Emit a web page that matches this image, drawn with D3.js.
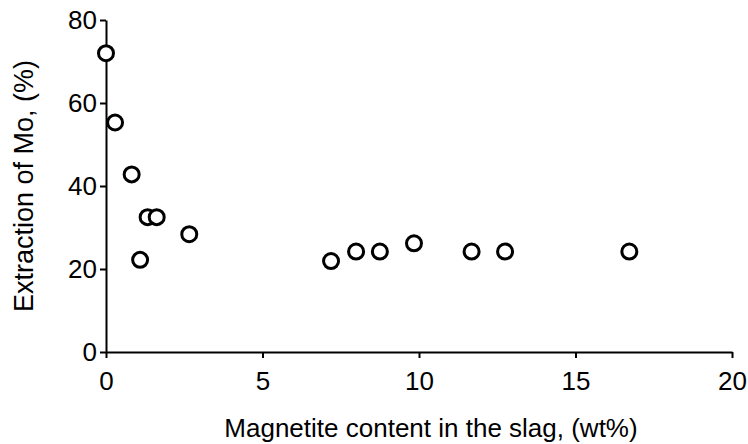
<!DOCTYPE html>
<html><head><meta charset="utf-8">
<script src="https://cdn.jsdelivr.net/npm/d3@7"></script>
<style>body{margin:0;background:#fff}svg{display:block}text{font-family:"Liberation Sans",Arial,sans-serif;fill:#000}</style>
</head><body>
<svg id="c" width="748" height="444"></svg>
<script>
const magnetite = [0, 0.29, 0.82, 1.33, 1.62, 1.09, 2.66, 7.19, 7.99, 8.75, 9.84, 11.68, 12.75, 16.72];
const extraction = [72.0, 55.3, 42.8, 32.5, 32.5, 22.2, 28.4, 21.9, 24.2, 24.2, 26.2, 24.2, 24.2, 24.2];
const xTicks = [0, 5, 10, 15, 20];
const yTicks = [0, 20, 40, 60, 80];
const xTitle = "Magnetite content in the slag, (wt%)";
const yTitle = "Extraction of Mo, (%)";

const svg = d3.select("#c");
const x = d3.scaleLinear().domain([0, 20]).range([106, 732]);
const y = d3.scaleLinear().domain([0, 80]).range([352, 20]);

const xa = svg.append("g").attr("transform", "translate(0,352)")
  .call(d3.axisBottom(x).tickValues(xTicks).tickSize(6).tickSizeOuter(0).tickPadding(14));
const ya = svg.append("g").attr("transform", "translate(106,0)")
  .call(d3.axisLeft(y).tickValues(yTicks).tickSize(6).tickSizeOuter(0).tickPadding(3));
[xa, ya].forEach(a => {
  a.selectAll("path, line").attr("stroke", "#000").attr("stroke-width", 2);
  a.selectAll("text").style("font-size", "26px").style("font-family", '"Liberation Sans", Arial, sans-serif').attr("fill", "#000");
});

svg.append("text").attr("x", 431).attr("y", 437).attr("text-anchor", "middle")
  .style("font-size", "26px").text(xTitle);
svg.append("text").attr("transform", "translate(33,186) rotate(-90)").attr("text-anchor", "middle")
  .style("font-size", "27px").text(yTitle);

svg.append("g").selectAll("circle").data(magnetite.map((m, i) => [m, extraction[i]])).join("circle")
  .attr("cx", d => x(d[0])).attr("cy", d => y(d[1])).attr("r", 7.5)
  .attr("fill", "#fff").attr("stroke", "#000").attr("stroke-width", 3);
</script>
</body></html>
